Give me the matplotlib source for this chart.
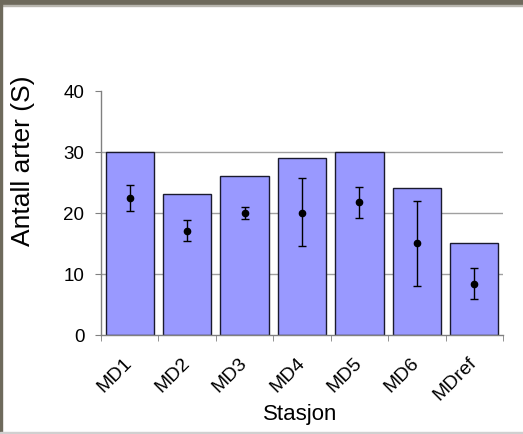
import numpy as np
import matplotlib.pyplot as plt
from matplotlib.patches import Rectangle

stasjoner = ["MD1", "MD2", "MD3", "MD4", "MD5", "MD6", "MDref"]
antall = [30, 23, 26, 29, 30, 24, 15]
snitt = [22.4, 17.0, 20.0, 20.0, 21.8, 15.0, 8.3]
feil_opp = [24.5, 18.8, 21.0, 25.7, 24.2, 22.0, 10.9]
feil_ned = [20.3, 15.3, 19.0, 14.5, 19.1, 8.0, 5.8]

plt.rcParams['font.family'] = ['Liberation Sans', 'DejaVu Sans']

fig = plt.figure(figsize=(5.23, 4.35), dpi=100)
ax = fig.add_axes([101 / 523, 1 - 335.5 / 435, 402 / 523, 243.5 / 435])

x = np.arange(len(stasjoner))
for g in [10, 20, 30]:
    ax.axhline(g, color="#a0a0a0", lw=1, zorder=0)
ax.bar(x, antall, width=0.84, color="#9999ff", edgecolor="#1a1a2e", linewidth=1, zorder=2)

snitt = np.array(snitt)
yerr = [snitt - np.array(feil_ned), np.array(feil_opp) - snitt]
ax.errorbar(x, snitt, yerr=yerr, fmt="o", color="black", ms=4.5, capsize=3,
            elinewidth=1, capthick=1, zorder=3)

ax.set_xlim(-0.5, len(stasjoner) - 0.5)
ax.set_ylim(0, 40)
ax.set_yticks([0, 10, 20, 30, 40])
ax.set_xticks(x)
ax.set_xticks(np.arange(-0.5, len(stasjoner)), minor=True)
ax.set_xticklabels(stasjoner, rotation=45, ha="right", va="center",
                   rotation_mode="anchor", fontsize=14)
ax.tick_params(axis="x", which="major", length=0, pad=18)
ax.tick_params(axis="x", which="minor", length=4, color="#808080", direction="out")
ax.tick_params(axis="y", length=4, color="#808080", labelsize=13.5, pad=8)

for s in ["top", "right"]:
    ax.spines[s].set_visible(False)
for s in ["left", "bottom"]:
    ax.spines[s].set_color("#808080")
    ax.spines[s].set_linewidth(1)

fig.text(300 / 523, 1 - 415 / 435, "Stasjon", fontsize=16, ha="center", va="center")
fig.text(23 / 523, 1 - 161 / 435, "Antall arter (S)", rotation=90, fontsize=19,
         ha="center", va="center")

# ramme rundt bildet
fig.patches.append(Rectangle((0, 1 - 6 / 435), 1, 6 / 435, transform=fig.transFigure,
                             color="#6e6a5c", zorder=5))
fig.patches.append(Rectangle((0, 1 - 7 / 435), 1, 1 / 435, transform=fig.transFigure,
                             color="#b8b6ae", zorder=5))
fig.patches.append(Rectangle((0, 0), 2 / 523, 1, transform=fig.transFigure,
                             color="#6e6a5c", zorder=5))
fig.patches.append(Rectangle((0, 0), 1, 2 / 435, transform=fig.transFigure,
                             color="#d0d0d0", zorder=5))

fig.savefig("out.png", dpi=100)
